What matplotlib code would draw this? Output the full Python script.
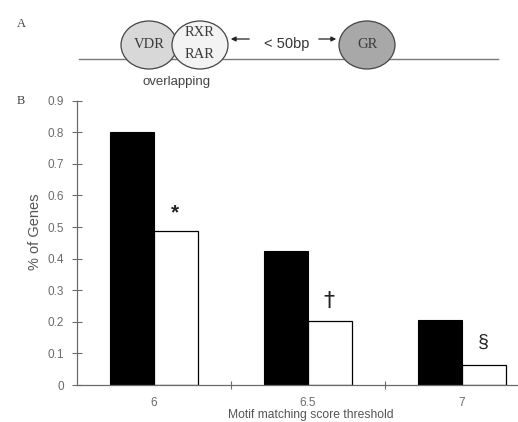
import matplotlib

matplotlib.use("Agg")
import matplotlib.pyplot as plt
from matplotlib.patches import Ellipse
import numpy as np

# bar chart data (panel B)
thresholds = ["6", "6.5", "7"]
black_vals = [0.80, 0.424, 0.205]
white_vals = [0.487, 0.203, 0.063]
marks = ["*", "\u2020", "\u00a7"]
y_ticks = [0, 0.1, 0.2, 0.3, 0.4, 0.5, 0.6, 0.7, 0.8, 0.9]
y_tick_labels = ["0", "0.1", "0.2", "0.3", "0.4", "0.5", "0.6", "0.7", "0.8", "0.9"]

W, H = 518, 422
GRAY = "#6b6b6b"
SANS = "Liberation Sans"
SERIF = "Liberation Serif"

fig = plt.figure(figsize=(W / 100, H / 100), dpi=100)

# panel A: schematic, drawn in pixel coordinates
ax0 = fig.add_axes([0, 0, 1, 1])
ax0.set_xlim(0, W)
ax0.set_ylim(H, 0)
ax0.axis("off")

ax0.plot([79, 498], [59, 59], color="#7a7a7a", lw=1.0, zorder=1)
for cx, fc in [(149, "#d8d8d8"), (200, "#f3f3f3"), (367, "#a8a8a8")]:
    ax0.add_patch(Ellipse((cx, 45), 56, 48, facecolor=fc, edgecolor="#444444", lw=0.9, zorder=2))
ax0.text(149, 44, "VDR", family=SERIF, fontsize=10.5, color="#3a3a3a", ha="center", va="center", zorder=3)
ax0.text(200, 33, "RXR", family=SERIF, fontsize=10.5, color="#3a3a3a", ha="center", va="center", zorder=3)
ax0.text(200, 54, "RAR", family=SERIF, fontsize=10.5, color="#3a3a3a", ha="center", va="center", zorder=3)
ax0.text(367, 44, "GR", family=SERIF, fontsize=10.5, color="#3a3a3a", ha="center", va="center", zorder=3)
ax0.text(287, 44, "< 50bp", family=SANS, fontsize=10.5, color="#333333", ha="center", va="center")
ax0.annotate("", xy=(228, 39), xytext=(252, 39),
             arrowprops=dict(arrowstyle="-|>", color="#222222", lw=0.9, mutation_scale=7))
ax0.annotate("", xy=(339, 39), xytext=(316, 39),
             arrowprops=dict(arrowstyle="-|>", color="#222222", lw=0.9, mutation_scale=7))
ax0.text(177, 82, "overlapping", family=SANS, fontsize=9.5, color="#444444", ha="center", va="center")
ax0.text(21, 24, "A", family=SERIF, fontsize=9, color="#444444", ha="center", va="center")
ax0.text(21, 101, "B", family=SERIF, fontsize=9, color="#444444", ha="center", va="center")

# axis titles, placed in pixel coordinates as in the source figure
ax0.text(35, 232, "% of Genes", family=SANS, fontsize=10.5, color="#555555",
         rotation=90, ha="center", va="center")
ax0.text(311, 415, "Motif matching score threshold", family=SANS, fontsize=8.7,
         color="#555555", ha="center", va="center")

# panel B: bar chart
left, bottom, top = 77, 385, 100.7
ax = fig.add_axes([left / W, (H - bottom) / H, 462 / W, (bottom - top) / H])
x = np.arange(len(thresholds))
bw = 0.286
ax.bar(x - bw / 2, black_vals, bw, color="black", edgecolor="black", lw=0.8)
ax.bar(x + bw / 2, white_vals, bw, color="white", edgecolor="black", lw=0.9)

offsets = [0.057, 0.064, 0.072]
sizes = [15, 16, 14]
weights = ["bold", "normal", "normal"]
for i, (m, v) in enumerate(zip(marks, white_vals)):
    ax.text(x[i] + bw / 2 - 0.005, v + offsets[i], m, ha="center", va="center",
            family="DejaVu Sans" if i == 1 else SANS, fontsize=sizes[i],
            fontweight=weights[i], color="#222222")

ax.set_xlim(-0.5, 2.5)
ax.set_ylim(0, 0.9)
ax.set_yticks(y_ticks)
ax.set_yticklabels(y_tick_labels)
ax.set_xticks(x)
ax.set_xticklabels(thresholds)
ax.set_xticks([0.5, 1.5, 2.5], minor=True)
ax.tick_params(axis="x", which="major", length=0, pad=9, labelsize=8.5, labelcolor=GRAY)
ax.tick_params(axis="x", which="minor", direction="inout", length=6, color=GRAY, width=0.8)
ax.tick_params(axis="y", direction="inout", length=7, color=GRAY, width=0.8,
               pad=6, labelsize=8.5, labelcolor=GRAY)
for lab in ax.get_xticklabels() + ax.get_yticklabels():
    lab.set_family(SANS)
for s in ["top", "right"]:
    ax.spines[s].set_visible(False)
for s in ["left", "bottom"]:
    ax.spines[s].set_color(GRAY)
    ax.spines[s].set_linewidth(0.9)

fig.savefig("out.png", dpi=100)
